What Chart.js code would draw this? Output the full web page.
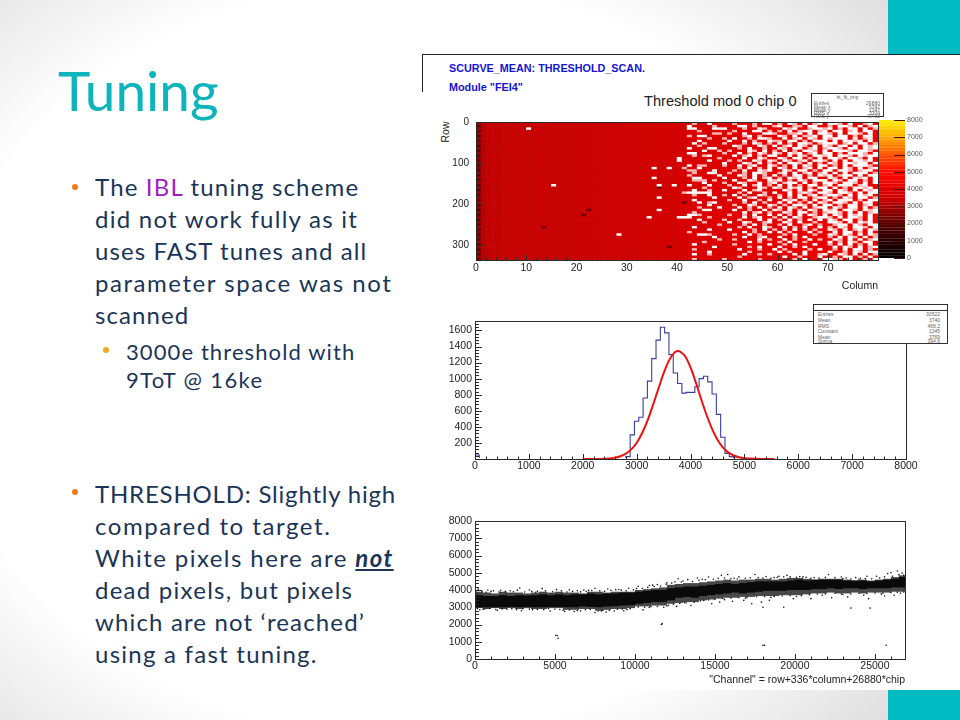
<!DOCTYPE html>
<html>
<head>
<meta charset="utf-8">
<title>Tuning</title>
<script src="https://cdn.jsdelivr.net/npm/chart.js@4/dist/chart.umd.min.js"></script>
<style>
html, body { margin: 0; padding: 0; }
#slide { position: relative; width: 960px; height: 720px; overflow: hidden;
  background: radial-gradient(ellipse 640px 520px at 42% 50%, #fff 72%, #dcdcdc 105%); font-family: Lato, sans-serif; }
.abs { position: absolute; }
.teal { position: absolute; left: 888px; width: 72px; background: #00bcc2; }
#sheet { position: absolute; left: 422px; top: 54px; width: 538px; height: 636px; background: #fff; }
#sheetTop { position: absolute; left: 422px; top: 54px; width: 538px; height: 1px; background: #222; }
#sheetLeft { position: absolute; left: 422px; top: 54px; width: 1px; height: 38px; background: #222; }
#pageTitle { left: 58px; top: 52px; font-size: 55px; line-height: 76px; color: #0db4bc; }
.body { color: #1b3558; font-size: 24px; line-height: 32px; white-space: nowrap; }
.sub { font-size: 22px; line-height: 28px; }
.dot { position: absolute; border-radius: 50%; }
canvas { position: absolute; filter: blur(.3px); }
.blue { color: #1414d2; font: bold 10.8px "Liberation Sans", sans-serif; white-space: nowrap; }
#heatTitle { left: 644px; top: 93px; font: 14.6px "Liberation Sans", sans-serif; color: #222; white-space: nowrap; }
#rowLabel { left: 445px; top: 132px; font: 10.5px "Liberation Sans", sans-serif; color: #222; transform: translate(-50%, -50%) rotate(-90deg); }
.stat { position: absolute; background: #fff; border: 1px solid #333; box-sizing: border-box; }
.stat div { position: absolute; font: 5px "Liberation Sans", sans-serif; color: #666; white-space: nowrap; line-height: 6px; }
</style>
</head>
<body>
<div id="slide">
  <div class="teal" style="top:0;height:54px"></div>
  <div class="teal" style="top:690px;height:30px"></div>
  <div id="sheet"></div>
  <div id="sheetTop"></div>
  <div id="sheetLeft"></div>

  <div id="pageTitle" class="abs">Tuning</div>

  <div class="dot" style="left:72px;top:184px;width:6px;height:6px;background:#f47b20"></div>
  <div class="abs body" style="left:95px;top:171px">
    <div style="letter-spacing:1.17px">The <span style="color:#a21cc4">IBL</span> tuning scheme</div>
    <div style="letter-spacing:1.25px">did not work fully as it</div>
    <div style="letter-spacing:1.11px">uses FAST tunes and all</div>
    <div style="letter-spacing:1.55px">parameter space was not</div>
    <div style="letter-spacing:1.1px">scanned</div>
  </div>
  <div class="dot" style="left:103px;top:347px;width:6px;height:6px;background:#f5a81c"></div>
  <div class="abs body sub" style="left:126px;top:338px">
    <div style="letter-spacing:1.1px">3000e threshold with</div>
    <div style="letter-spacing:1.35px">9ToT @ 16ke</div>
  </div>
  <div class="dot" style="left:72px;top:489px;width:6px;height:6px;background:#f47b20"></div>
  <div class="abs body" style="left:95px;top:478px">
    <div style="letter-spacing:.8px">THRESHOLD: Slightly high</div>
    <div style="letter-spacing:1.55px">compared to target.</div>
    <div style="letter-spacing:1.43px">White pixels here are <b style="font-style:italic;text-decoration:underline">not</b></div>
    <div style="letter-spacing:1.25px">dead pixels, but pixels</div>
    <div style="letter-spacing:1.15px">which are not ‘reached’</div>
    <div style="letter-spacing:1.25px">using a fast tuning.</div>
  </div>

  <div class="abs blue" style="left:449px;top:62px">SCURVE_MEAN: THRESHOLD_SCAN.</div>
  <div class="abs blue" style="left:449px;top:81px">Module "FEI4"</div>
  <div id="heatTitle" class="abs">Threshold mod 0 chip 0</div>
  <div id="rowLabel" class="abs">Row</div>

  <canvas id="heatChart" style="left:430px;top:112px" width="450" height="180"></canvas>
  <canvas id="barChart" style="left:873px;top:110px" width="60" height="160"></canvas>
  <canvas id="histChart" style="left:430px;top:311px" width="490" height="170"></canvas>
  <canvas id="scatChart" style="left:430px;top:511px" width="490" height="175"></canvas>

  <div class="stat" style="left:811px;top:93px;width:73px;height:24px">
    <div style="left:0;width:100%;text-align:center;top:0">ht_fit_tmp</div>
    <div style="left:2px;top:6px">Entries</div><div style="right:3px;top:6px">26880</div>
    <div style="left:2px;top:10px">Mean x</div><div style="right:3px;top:10px">5747</div>
    <div style="left:2px;top:13px">Mean y</div><div style="right:3px;top:13px">1347</div>
    <div style="left:2px;top:16px">RMS x</div><div style="right:3px;top:16px">3104</div>
    <div style="left:2px;top:19px">RMS y</div><div style="right:3px;top:19px">97.98</div>
  </div>
  <div class="stat" style="left:813px;top:304px;width:135px;height:40px">
    <div style="left:0;right:0;top:5px;height:1px;background:#333"></div>
    <div style="left:4px;top:6px">Entries</div><div style="right:7px;top:6px">30522</div>
    <div style="left:4px;top:12px">Mean</div><div style="right:7px;top:12px">3740</div>
    <div style="left:4px;top:18px">RMS</div><div style="right:7px;top:18px">468.2</div>
    <div style="left:4px;top:23px">Constant</div><div style="right:7px;top:23px">1345</div>
    <div style="left:4px;top:29px">Mean</div><div style="right:7px;top:29px">3769</div>
    <div style="left:4px;top:33px">Sigma</div><div style="right:7px;top:33px">394.6</div>
  </div>
</div>

<script>
// threshold per pixel column
const columnThreshold = [3000,3150,3250,3300,3250,3300,3300,3350,3300,3350,
  3300,3350,3400,3350,3400,3350,3350,3400,3350,3400,
  3400,3450,3400,3450,3400,3450,3500,3450,3500,3500,
  3500,3550,3500,3550,3600,3550,3600,3600,3650,3600,
  3700,3700,3750,3800,3800,3800,3850,3850,3900,3900,
  3950,3950,4000,4000,4000,4050,4050,4100,4100,4100,
  4150,4150,4150,4200,4200,4200,4200,4250,4250,4250,
  4250,4300,4300,4300,4300,4350,4350,4350,4350,4400];

// one string per 6 rows, columns 40..79. w = not reached, p = half reached, d = low
const hotRows = [
  "...p..w... .p...p.ww. p.wp.w.pw. wwp.w..pw.",
  "..w....p.. ..ww.p...p w..pp.ww.. p.wwp.w.pw",
  "..ww...www ...p..wp.. .wpw..pwwp w.p.ww.w.p",
  "....p..... .p...ww.p. p.w.pww.pw .ww.pw.ww.",
  ".......pp. p..w...wwp ..ppw.w.ww p.w.wwp.w.",
  "..p.ww.... ...pw.p... wp.w.ppw.w w.ww.p.ww.",
  "......p..p .w..p.wwp. .w.pw.wp.w pwww.w.pw.",
  "....w..... w..w.p..wp p.ww.p.www .w.wwpw.w.",
  "...w.p...p ...p.wp.p. w.p.wwp.pw ww.pw.ww.p",
  "....p..... .wp...wp.w .pw.wp.w.w p.ww.w.wpw",
  "..w...ww.. ..p.w..p.. wp.ww.pw.p wwp.ww.wpw",
  ".....w..p. p...wp.w.p .w.p.wwp.w .wwwp.wwp.",
  "..ww.....p ..w.p.wp.w p.wpw.pw.w w.p.wwwp.w",
  "...p.pw... .w.pw.p.ww ..w.wp.wwp w.wwp.wpww",
  "w.......p. ...w..wp.. wp.ww.p.w. wwp.wwp.w.",
  "w.....w... p.p..wp.wp .wp.pw.wwp .w.w.wwpw.",
  ".........w ...wp.w.p. w.wwp.w.p. wp.wwpww.w",
  "..w.pp...p ..w.pw..wp .p.w.wp.ww .p.w.wwwp.",
  ".p..w..... ..p.w.p.w. wp.w.pw.w. ww.wp.w.pw",
  "..pp...w.. .p.w..wpw. .wp.ww.p.w w.wwp.pww.",
  "...p..ww.. p..p.wwp.. pw.w.pw.pw .w.w.www.p",
  "..p.....w. ..wp.w.p.w .p.ww.p.wp w.pww.w.ww",
  "...ww....w ...p.w.pw. p.wpw.ww.. wp.w.wpw.w",
  "...ppp.p.. .w..wp..wp w.p.wp.www .wp.ww.p.w",
  ".....w...p ..wp..w.pw .pww.w.p.w wp.wwp.w.w",
  "..w...w... p..w.pw.p. w.w.p.ww.p w.www.pw..",
  ".....p.... .wp...wp.w p.wpw.p.ww .w.p.wwpw.",
  "...w..p..w ...w.pw... .wp.w.wp.w w.wp.w.wpw",
  ".pwwwww... ..p.w..p.w ..w.pwp.ww p.wwp.w.ww",
  "...p..w..p .w.p..wp.. p.w.w.pw.p wwp.w.wpw.",
  ".......w.. ..w.pw..p. w.p.ww.pww .p.wp.ww.p",
  "...w...... p..w..p.w. .wpw.p.w.p w.www.p.ww",
  ".d..w.pw.. ...p.w.p.. w.w.p.w.wp .wwp.w.ww.",
  "......w... .p..wp..wp .p.wwp.w.w w.p.ww.pw.",
  "....p...w. ..w.p.w.p. w.wp.w.pww .wp.ww.w.p",
  ".....ww... .w..p..w.w p.w.p.wp.w pw.wwp.wpw",
  "...p...... ...w.pw.p. .wp.ww.p.p wwp.w.w.pw",
  "..wwp..... p..p.w..w. w.p.w.wp.w .wp.wpw.w.",
  "www...p... ...w.pw..p .w.wp..pww p.w.wwp.w.",
  "....w....p ..p...w.w. p.w.p.w.w. wp.ww.p.w.",
  ".....p.... w..wp..pw. .wp.w..p.. wwp.w.wpw.",
  "........p. ...p.w.p.. p.w..pw.p. .pww.wp.ww",
  "...w...... ..p.w..wp. .w.p.w..w. p.wp.wwp.w",
  "......w... w....p.w.p .p.w.p.p.. wp.w.pw.wp",
  "..p....... ...w.p..w. w.p...w.p. .w.ww.p.w.",
  "....wwp... .p..w.p... .p.w...p.. wp.wp.w.wp",
  ".......w.. ...w..pw.. w..p.w.... p.w.wp.w.p",
  "........p. .p....w.p. .w.p..w.p. .wp.w.w.pw",
  ".....p.... ....w.p... p.w..p.... w.p.wp.ww.",
  "...w...... .p......w. .p.w...w.. p.w.w.p.w.",
  ".......w.. ....p.w... w..p.w.... .w.wp.w.pw",
  "...p...... ..w...p..w .p....p.w. .p.w.ww.p.",
  "......w... ....p..... w.p..w.... w..p.wp.ww",
  "...w..p... ...w..p.p. ...w.w..pw ..wp.w.w.p",
  ".......... ..p....... .w..p...w. .p.ww.p.w.",
  "...p.....p ......p... ...p.w...w wpp.w..p.w"
];

// odd pixels left of column 40: [column, row group, kind]
const leftSpecks = [[10,2,'w'],[15,25,'w'],[28,45,'w'],[34,38,'w'],[35,18,'w'],[35,22,'w'],
  [36,25,'w'],[36,30,'w'],[36,35,'w'],[38,18,'w'],[39,25,'w'],[21,37,'d'],[22,35,'d'],
  [36,26,'d'],[38,50,'d'],[13,42,'d']];
const firstColumnStripes = "21212121212121212121212121212121212121212121212121212121";

const colorbarLevels = [0,160,320,480,640,800,960,1120,1280,1440,1600,1760,1920,2080,2240,2400,
  2560,2720,2880,3040,3200,3360,3520,3680,3840,4000,4160,4320,4480,4640,4800,4960,5120,5280,
  5440,5600,5760,5920,6080,6240,6400,6560,6720,6880,7040,7200,7360,7520,7680,7840];

// histogram, 100 bins of width 80
const histCounts = [50,0,0,0,0,0,0,0,0,0,0,0,0,0,0,0,0,0,0,0,0,0,0,0,0,0,0,0,0,0,0,0,0,0,
  2,30,300,470,520,760,970,1250,1480,1640,1570,1300,1070,940,820,830,830,900,1000,1030,960,810,
  555,270,70,30,8,3,0,0,0,0,0,0,0,0,0,0,0,0,0,0,0,0,0,0,0,0,0,0,0,0,0,0,0,0,0,0,0,0,0,0,0,0,0,0];
const fitX = [2000,2200,2400,2600,2700,2800,2900,3000,3100,3200,3300,3400,3500,3600,3700,3769,3800,
  3900,4000,4100,4200,4300,4400,4500,4600,4700,4800,4900,5000,5200,5400,5560];
const fitY = [0,0,3,17,35,66,120,200,320,474,665,866,1065,1225,1325,1345,1340,1280,1140,950,740,
  545,375,240,145,82,44,22,10,2,0,0];

// threshold against channel: the thick band, per 500 channels
const bandChannel = [250,750,1250,1750,2250,2750,3250,3750,4250,4750,5250,5750,6250,6750,7250,7750,
  8250,8750,9250,9750,10250,10750,11250,11750,12250,12750,13250,13750,14250,14750,15250,15750,16250,
  16750,17250,17750,18250,18750,19250,19750,20250,20750,21250,21750,22250,22750,23250,23750,24250,
  24750,25250,25750,26250,26750];
const outerLow = [2950,2900,2950,2900,2950,2900,2950,2900,2900,2950,2950,2850,2850,2900,2900,2800,2850,2900,2900,2950,
  3050,3050,3100,3100,3200,3250,3300,3300,3400,3450,3500,3550,3550,3600,3600,3650,3650,3650,3700,3700,
  3700,3750,3800,3800,3850,3800,3800,3850,3800,3850,3850,3850,3900,3900];
const outerHigh = [3900,3850,3800,3900,3850,3850,3800,3850,3900,3850,3900,3850,3850,3800,3900,3900,3850,3900,3900,3900,
  4000,4050,4100,4150,4300,4350,4400,4400,4450,4500,4550,4600,4550,4600,4600,4650,4650,4600,4650,4700,
  4700,4650,4600,4650,4650,4650,4600,4550,4600,4550,4600,4650,4750,4850];
const coreLow = [3000,3000,3000,3000,3020,3000,3020,3000,3000,3020,3020,3000,3000,3050,3020,3000,3040,3060,3100,3120,
  3200,3250,3300,3300,3400,3550,3600,3550,3650,3700,3750,3800,3850,3800,3850,3900,3950,3950,3950,4000,
  4000,4000,4050,4050,4100,4050,4100,4100,4050,4100,4100,4100,4150,4150];
const coreHigh = [3700,3650,3650,3700,3650,3700,3680,3700,3750,3700,3750,3700,3750,3750,3800,3750,3800,3800,3850,3850,
  3900,3950,4000,4000,4100,4150,4200,4200,4250,4300,4350,4400,4350,4400,4450,4500,4500,4500,4500,4550,
  4600,4550,4600,4600,4600,4600,4550,4550,4550,4500,4550,4600,4650,4750];
// loose points outside the band
const strayPoints = [[5200,1200],[5150,1350],[5050,1380],[11700,2050],[11650,2000],[18100,800],[18000,790],[25700,800],
  [23500,2950],[24700,2950],[18000,3000],[19300,3000],[17300,3200],[17900,3300],[18400,3400],[19900,3500],
  [14800,3200],[15300,3300],[16100,3350],[16800,3400],[21000,3500],[22300,3550],[23300,3600],[24600,3500],
  [25600,3650],[26200,3700],[13500,3100],[12600,3050],[11800,3000],[10500,2850],[9300,2800],[7500,2700],
  [6200,2750],[4700,2780],[2900,2800],[1400,2820],[300,2850],[8200,2720],[8700,2780],[5600,2760],
  [200,4050],[800,4000],[1600,3980],[2800,4120],[3400,4000],[4200,4080],[5100,4020],[5900,4010],[6800,4000],
  [7500,4100],[8300,4060],[9000,4030],[9600,4100],[10200,4220],[10900,4260],[11400,4320],[12000,4420],
  [12700,4650],[13300,4600],[13900,4700],[14600,4750],[15400,4850],[15800,4900],[16500,4760],[17500,4900],
  [18200,4780],[19000,4800],[19500,4850],[20300,4780],[21200,4720],[22100,4900],[22900,4750],[23800,4720],
  [24500,4800],[25100,4800],[25800,4950],[26400,5100],[26700,4980],[26000,5000],[26800,4850],
  [1000,3920],[2200,3960],[3900,3930],[6400,3960],[7100,3980],[8800,4020],[11100,4280],[13000,4520],
  [14200,4620],[16200,4680],[18700,4720],[20700,4740],[23200,4700],[24100,4680],[600,2900],[2000,2880],
  [3600,2860],[5300,2870],[6600,2790],[7900,2790],[9500,2860],[10900,2990],[12100,3120],[13200,3250],
  [14300,3390],[15600,3440],[16900,3530],[18500,3570],[20100,3620],[21700,3700],[23000,3740],[24300,3700],
  [25400,3760],[26600,3820],
  [100,3960],[450,3930],[700,3870],[1150,3950],[1500,3880],[1900,3920],[2400,3900],[2650,3990],[3100,3880],[3550,3920],
  [3800,3870],[4400,3950],[4850,3900],[5400,3960],[5750,3880],[6100,3920],[6600,3890],[6950,3930],[7300,3970],[7800,3950],
  [8100,3920],[8500,3980],[9150,3990],[9450,3950],[9900,4010],[10100,4080],[10450,4100],[10800,4150],[11200,4200],[11600,4230],
  [11950,4340],[12300,4400],[12500,4480],[12900,4460],[13600,4490],[14000,4560],[14400,4590],[14900,4620],[15200,4680],[15600,4700],
  [16000,4650],[16400,4640],[16900,4680],[17200,4710],[17700,4720],[18000,4700],[18500,4680],[18900,4730],[19300,4770],[19700,4760],
  [20100,4740],[20500,4760],[21000,4680],[21500,4690],[21900,4730],[22500,4720],[23000,4660],[23500,4640],[24000,4620],[24400,4660],
  [24800,4650],[25300,4690],[25600,4760],[26100,4800],[26500,4890],
  [150,2920],[500,2880],[900,2930],[1300,2870],[1700,2900],[2300,2920],[2600,2860],[3000,2920],[3400,2890],[3900,2870],
  [4300,2860],[4600,2930],[5000,2900],[5500,2830],[5900,2840],[6400,2810],[6900,2850],[7200,2870],[7700,2780],[8000,2830],
  [8400,2820],[8900,2880],[9200,2900],[9700,2920],[10200,3010],[10600,3000],[11000,3050],[11400,3040],[12000,3070],[12400,3170],
  [12800,3220],[13100,3280],[13700,3290],[14100,3370],[14600,3430],[15000,3470],[15500,3510],[16000,3530],[16500,3560],[17000,3570],
  [17600,3610],[18100,3620],[18700,3630],[19200,3670],[19700,3680],[20400,3670],[20900,3720],[21400,3770],[21900,3770],[22500,3810],
  [22900,3770],[23500,3770],[24000,3810],[24500,3790],[25000,3820],[25500,3820],[26000,3860],[26400,3870],[26800,3880]];

const channelTicks = [0,5000,10000,15000,20000,25000];

const histDots = histCounts.map((y, i) => ({x: i * 80, y: y}));
const fitDots = fitX.map((x, i) => ({x: x, y: fitY[i]}));

// ROOT-like palette, black through red to yellow
const paletteStops = [[0,0,0,0],[1000,40,0,0],[2000,90,0,0],[3000,170,0,0],[3300,198,5,5],[4000,226,0,0],
  [5000,255,10,0],[6000,255,85,0],[7000,255,170,0],[8000,255,238,0]];
function paletteColor(v) {
  for (let i = 1; i < paletteStops.length; i++) {
    const a = paletteStops[i - 1], b = paletteStops[i];
    if (v <= b[0]) {
      const t = (v - a[0]) / (b[0] - a[0]);
      return `rgb(${Math.round(a[1] + (b[1] - a[1]) * t)},${Math.round(a[2] + (b[2] - a[2]) * t)},${Math.round(a[3] + (b[3] - a[3]) * t)})`;
    }
  }
  return '#ffee00';
}
function cellColor(kind, col) {
  if (kind === 'w') return '#ffffff';
  if (kind === 'p') return '#ffb4b4';
  if (kind === 'd') return '#6a0000';
  if (kind === '1') return paletteColor(2100);
  if (kind === '2') return paletteColor(2900);
  return paletteColor(columnThreshold[col]);
}

// frame and inward ticks, the way ROOT draws them
const rootFrame = {
  id: 'rootFrame',
  beforeDatasetsDraw(chart, args, opts) {
    if (!opts.fill) return;
    const a = chart.chartArea;
    chart.ctx.save();
    chart.ctx.fillStyle = opts.fill;
    chart.ctx.fillRect(a.left, a.top, a.right - a.left, a.bottom - a.top);
    chart.ctx.restore();
  },
  afterDatasetsDraw(chart, args, opts) {
    const ctx = chart.ctx, a = chart.chartArea, sx = chart.scales.x, sy = chart.scales.y;
    ctx.save();
    ctx.strokeStyle = '#2a2a2a';
    ctx.lineWidth = 1;
    if (opts.barTicks) {
      ctx.strokeStyle = '#4a1400';
      ctx.beginPath();
      sy.ticks.forEach(t => {
        const p = Math.round(sy.getPixelForValue(t.value)) + .5;
        ctx.moveTo(a.right - 11, p);
        ctx.lineTo(a.right, p);
      });
      ctx.stroke();
      ctx.restore();
      return;
    }
    ctx.strokeRect(a.left + .5, a.top + .5, a.right - a.left, a.bottom - a.top);
    ctx.beginPath();
    for (let v = sx.min; opts.xMinor && v <= sx.max; v += opts.xMinor) {
      const p = Math.round(sx.getPixelForValue(v)) + .5;
      const big = Math.abs(v % opts.xMajor) < 1e-6;
      ctx.moveTo(p, a.bottom);
      ctx.lineTo(p, a.bottom - (big ? 5 : 2.5));
    }
    for (let v = sy.min; opts.yMinor && v <= sy.max; v += opts.yMinor) {
      const p = Math.round(sy.getPixelForValue(v)) + .5;
      const big = Math.abs(v % opts.yMajor) < 1e-6;
      ctx.moveTo(a.left, p);
      ctx.lineTo(a.left + (big ? 7 : 4), p);
    }
    ctx.stroke();
    ctx.restore();
  }
};

function fixedScale(size, horizontal) {
  return s => {
    if (horizontal) s.height = size; else s.width = size;
    s.paddingLeft = s.paddingRight = s.paddingTop = s.paddingBottom = 0;
  };
}
function baseOptions(padding, frame) {
  return {
    responsive: false, animation: false, events: [],
    layout: {padding: padding},
    plugins: {legend: {display: false}, tooltip: {enabled: false}, rootFrame: frame}
  };
}
const tickFont = {family: 'Liberation Sans', size: 10.5};
const noGrid = {display: false, drawTicks: false, tickLength: 0};

// threshold map
const heatDatasets = hotRows.map((row, r) => {
  const cells = row.split(' ').join('');
  const colors = columnThreshold.map((t, c) => {
    if (c === 0) return cellColor(firstColumnStripes[r], c);
    if (c >= 40) return cellColor(cells[c - 40], c);
    const speck = leftSpecks.find(s => s[0] === c && s[1] === r);
    return cellColor(speck ? speck[2] : '.', c);
  });
  return {
    data: columnThreshold.map((t, c) => ({x: c + .5, y: [r * 6, r * 6 + 7]})),
    backgroundColor: colors, grouped: false, barPercentage: 1.1, categoryPercentage: 1, borderWidth: 0
  };
});
new Chart(document.getElementById('heatChart'), {
  type: 'bar',
  data: {datasets: heatDatasets},
  options: Object.assign(baseOptions({left: 0, right: 2, top: 10, bottom: 0},
    {xMinor: 2, xMajor: 10, yMinor: 20, yMajor: 100, fill: '#cf0303'}), {
    scales: {
      x: {type: 'linear', offset: false, min: 0, max: 80, grid: noGrid, border: {display: false},
        afterFit: fixedScale(32, true),
        title: {display: true, text: 'Column', align: 'end', color: '#222', padding: 0, font: {family: 'Liberation Sans', size: 10.5}},
        ticks: {stepSize: 10, includeBounds: false, maxRotation: 0, padding: 2, color: '#222', font: tickFont,
          callback: v => v === 80 ? '' : String(v)}},
      y: {type: 'linear', min: 0, max: 336, reverse: true, grid: noGrid, border: {display: false},
        afterFit: fixedScale(46, false),
        ticks: {stepSize: 100, includeBounds: false, padding: 7, color: '#222', font: {family: 'Liberation Sans', size: 10},
          callback: v => String(v)}}
    }
  }),
  plugins: [rootFrame]
});

// palette bar
new Chart(document.getElementById('barChart'), {
  type: 'bar',
  data: {datasets: [{
    data: colorbarLevels.map(l => ({x: 1, y: l + 80})),
    backgroundColor: colorbarLevels.map(l => paletteColor(l + 80)),
    barPercentage: 1.05, categoryPercentage: 1, borderWidth: 0
  }]},
  options: Object.assign(baseOptions({left: 6, right: 0, top: 10, bottom: 12}, {barTicks: true}), {
    indexAxis: 'y',
    scales: {
      x: {type: 'linear', display: false, min: 0, max: 1, offset: false},
      y: {type: 'linear', position: 'right', offset: false, min: 0, max: 8000, grid: noGrid,
        border: {display: false}, afterFit: fixedScale(28, false),
        ticks: {stepSize: 1000, padding: 2, color: '#555', font: {family: 'Liberation Sans', size: 7}, callback: v => String(v)}}
    }
  }),
  plugins: [rootFrame]
});

// threshold distribution and gaussian fit
new Chart(document.getElementById('histChart'), {
  type: 'scatter',
  data: {datasets: [
    {data: fitDots, showLine: true, borderColor: '#ee1111', borderWidth: 2, pointRadius: 0, tension: .35},
    {data: histDots, showLine: true, stepped: true, borderColor: '#3a3f9e', borderWidth: 1.1, pointRadius: 0,
      clip: {left: 0, right: 0, top: 0, bottom: -1}}
  ]},
  options: Object.assign(baseOptions({left: 0, right: 14, top: 10, bottom: 0},
    {xMinor: 200, xMajor: 1000, yMinor: 40, yMajor: 200}), {
    scales: {
      x: {type: 'linear', min: 0, max: 8000, grid: noGrid, border: {display: false},
        afterFit: fixedScale(22, true),
        ticks: {stepSize: 1000, padding: 1, maxRotation: 0, color: '#222', font: tickFont, callback: v => String(v)}},
      y: {type: 'linear', min: 0, max: 1718, grid: noGrid, border: {display: false},
        afterFit: fixedScale(45, false),
        ticks: {stepSize: 200, includeBounds: false, padding: 3, color: '#222', font: tickFont, callback: v => v === 0 ? '' : String(v)}}
    }
  }),
  plugins: [rootFrame]
});

// threshold against channel
new Chart(document.getElementById('scatChart'), {
  type: 'bar',
  data: {datasets: [
    {type: 'scatter', data: strayPoints.map(p => ({x: p[0], y: p[1]})), pointRadius: .8, borderWidth: 0, backgroundColor: '#111'},
    {data: bandChannel.map((x, i) => ({x: x, y: [coreLow[i], coreHigh[i]]})), backgroundColor: '#0a0a0a',
      grouped: false, barPercentage: 1.03, categoryPercentage: 1, borderWidth: 0},
    {data: bandChannel.map((x, i) => ({x: x, y: [outerLow[i], outerHigh[i]]})), backgroundColor: 'rgba(40,40,40,.85)',
      grouped: false, barPercentage: 1.01, categoryPercentage: 1, borderWidth: 0}
  ]},
  options: Object.assign(baseOptions({left: 0, right: 15, top: 10, bottom: 0},
    {xMinor: 1000, xMajor: 5000, yMinor: 200, yMajor: 1000}), {
    scales: {
      x: {type: 'linear', offset: false, min: 0, max: 26880, grid: noGrid, border: {display: false},
        afterFit: fixedScale(27, true),
        afterBuildTicks: s => { s.ticks = channelTicks.map(v => ({value: v})); },
        title: {display: true, text: '"Channel" = row+336*column+26880*chip', align: 'end', color: '#222', padding: 0, font: tickFont},
        ticks: {padding: 1, maxRotation: 0, color: '#222', font: tickFont, callback: v => String(v)}},
      y: {type: 'linear', min: 0, max: 8000, grid: noGrid, border: {display: false},
        afterFit: fixedScale(45, false),
        ticks: {stepSize: 1000, padding: 3, color: '#222', font: tickFont, callback: v => String(v)}}
    }
  }),
  plugins: [rootFrame]
});
</script>
</body>
</html>
